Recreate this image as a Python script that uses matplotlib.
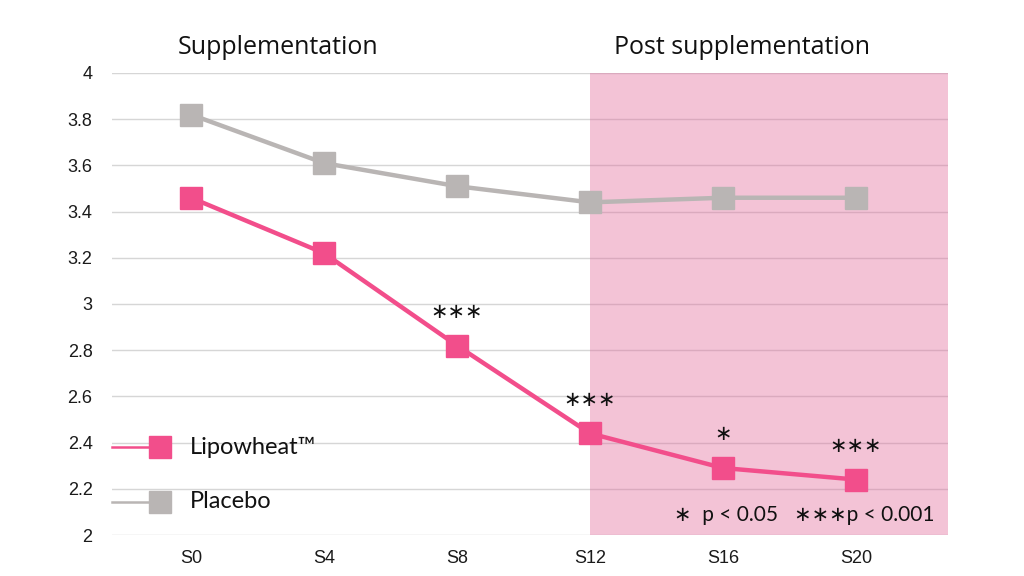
import matplotlib
matplotlib.use("Agg")
import matplotlib.pyplot as plt

categories = ["S0", "S4", "S8", "S12", "S16", "S20"]
lipowheat = [3.46, 3.22, 2.82, 2.44, 2.29, 2.24]
placebo = [3.82, 3.61, 3.51, 3.44, 3.46, 3.46]
significance = ["", "", "∗∗∗", "∗∗∗", "∗", "∗∗∗"]
yticks = [2, 2.2, 2.4, 2.6, 2.8, 3, 3.2, 3.4, 3.6, 3.8, 4]
ytick_labels = ["2", "2.2", "2.4", "2.6", "2.8", "3", "3.2", "3.4", "3.6", "3.8", "4"]
series_labels = ["Lipowheat™", "Placebo"]
phase_labels = ["Supplementation", "Post supplementation"]
post_start = 3  # index of S12

PINK = "#F24E8B"
GRAY = "#B9B5B4"
SHADE = "#E1699A"

fig = plt.figure(figsize=(10.24, 5.76), dpi=100)
ax = fig.add_axes([112/1024, 1-535/576, (948-112)/1024, (535-73)/576])

x = list(range(len(categories)))
ax.set_xlim(-0.594, len(categories) - 1 + 0.692)
ax.set_ylim(2, 4)

ax.set_axisbelow(True)
ax.axvspan(post_start, ax.get_xlim()[1], color=SHADE, alpha=0.4, lw=0, zorder=1)
ax.set_yticks(yticks)
ax.set_yticklabels(ytick_labels)
ax.grid(axis="y", color="#D6D6D6", lw=1.0)
for s in ax.spines.values():
    s.set_visible(False)
ax.set_xticks(x)
ax.set_xticklabels(categories)
ax.tick_params(length=0, labelsize=13, pad=11, labelcolor="#1a1a1a")
ax.tick_params(axis="y", pad=14)
for lab in ax.get_xticklabels() + ax.get_yticklabels():
    lab.set_family("Liberation Sans")

ax.plot(x, placebo, color=GRAY, lw=3.2, marker="s", ms=15.5, mec=GRAY, zorder=3)
ax.plot(x, lipowheat, color=PINK, lw=3.2, marker="s", ms=15.5, mec=PINK, zorder=4)

for xi, yi, s in zip(x, lipowheat, significance):
    if s:
        ax.annotate(s, (xi, yi), xytext=(0, 17), textcoords="offset points",
                    ha="center", va="bottom", fontsize=15, family="DejaVu Sans",
                    color="#111111", zorder=5)

# legend drawn manually
leg_y = [447, 502]
for lab, col, py in zip(series_labels, [PINK, GRAY], leg_y):
    yy = 1 - (py - 73) / (535 - 73)
    xm = (160 - 112) / (948 - 112)
    ax.plot([0, xm], [yy, yy], transform=ax.transAxes, color=col, lw=1.8,
            clip_on=False, zorder=5)
    ax.plot([xm], [yy], transform=ax.transAxes, marker="s", ms=15.5, color=col,
            clip_on=False, zorder=5)
    ax.text((190 - 112) / (948 - 112), yy, lab, transform=ax.transAxes,
            ha="left", va="center", fontsize=17, family="Lato", color="#111111")

# phase titles
fig.text(278/1024, 1-47/576, phase_labels[0], ha="center", va="center",
         fontsize=18, family="Open Sans", color="#111111")
fig.text(742/1024, 1-47/576, phase_labels[1], ha="center", va="center",
         fontsize=18, family="Open Sans", color="#111111")

# significance key
fig.text(935/1024, 1-515/576, "∗  p < 0.05   ∗∗∗p < 0.001", ha="right", va="center",
         fontsize=15, family=["Lato", "DejaVu Sans"], color="#111111")

fig.savefig("out.png", dpi=100)
